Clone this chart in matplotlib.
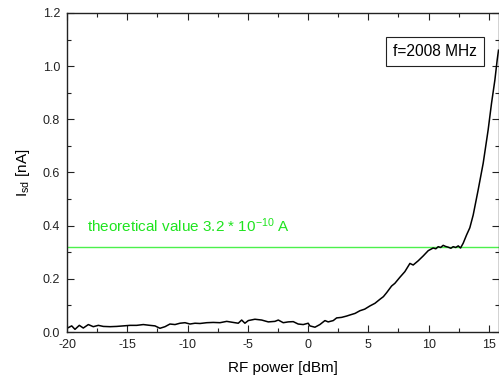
#!/usr/bin/env python3
"""Source-drain current vs RF power at f=2008 MHz, with theoretical level."""

import matplotlib
matplotlib.use("Agg")
import matplotlib.pyplot as plt
from matplotlib.ticker import MultipleLocator

plt.rcParams["font.family"] = ["Liberation Sans", "DejaVu Sans"]
plt.rcParams["mathtext.default"] = "regular"
plt.rcParams["axes.unicode_minus"] = False

rf_power = [
    -20.00, -19.61, -19.34, -18.98, -18.65, -18.23, -17.82, -17.40, -16.99, -16.43,
    -15.88, -15.33, -14.77, -14.22, -13.67, -13.12, -12.70, -12.29, -11.87, -11.46,
    -11.04, -10.63, -10.21, -9.80, -9.38, -8.97, -8.41, -7.87, -7.31, -6.75,
    -6.21, -5.79, -5.51, -5.24, -4.96, -4.41, -3.85, -3.30, -2.75, -2.47,
    -2.06, -1.65, -1.23, -0.82, -0.40, 0.01, 0.15, 0.57, 0.98, 1.40,
    1.67, 2.09, 2.37, 2.78, 3.20, 3.47, 3.90, 4.30, 4.70, 5.13,
    5.55, 5.96, 6.25, 6.52, 6.93, 7.20, 7.62, 8.03, 8.45, 8.72,
    9.14, 9.55, 9.97, 10.38, 10.60, 10.80, 11.00, 11.21, 11.40, 11.63,
    11.85, 12.04, 12.25, 12.46, 12.65, 12.87, 13.15, 13.42, 13.70, 14.11,
    14.53, 14.94, 15.22, 15.50, 15.69, 15.80,
]
i_sd = [
    0.014, 0.023, 0.010, 0.025, 0.015, 0.028, 0.020, 0.025, 0.021, 0.020,
    0.021, 0.023, 0.025, 0.025, 0.028, 0.025, 0.023, 0.014, 0.020, 0.030,
    0.028, 0.033, 0.035, 0.030, 0.033, 0.032, 0.035, 0.036, 0.035, 0.040,
    0.036, 0.033, 0.045, 0.033, 0.043, 0.048, 0.045, 0.038, 0.040, 0.045,
    0.035, 0.038, 0.039, 0.030, 0.028, 0.033, 0.023, 0.018, 0.028, 0.043,
    0.038, 0.043, 0.053, 0.055, 0.060, 0.064, 0.070, 0.080, 0.086, 0.098,
    0.108, 0.123, 0.133, 0.148, 0.173, 0.183, 0.206, 0.227, 0.258, 0.252,
    0.268, 0.286, 0.306, 0.316, 0.313, 0.321, 0.318, 0.326, 0.322, 0.319,
    0.315, 0.321, 0.318, 0.324, 0.316, 0.334, 0.365, 0.392, 0.440, 0.534,
    0.635, 0.760, 0.860, 0.948, 1.023, 1.060,
]
theory_level = 0.32  # nA
theory_label = "theoretical value 3.2 * 10$^{-10}$ A"
freq_label = "f=2008 MHz"

fig = plt.figure(figsize=(4.99, 3.81), dpi=100)
ax = fig.add_axes([0.1343, 0.1286, 0.8647, 0.8373])

ax.axhline(theory_level, color="#4cf04c", linewidth=1.0, zorder=1)
ax.plot(rf_power, i_sd, color="black", linewidth=1.1, zorder=2)

ax.text(-18.34, 0.376, theory_label, color="#1fe41f", fontsize=11,
        va="baseline", ha="left")
ax.text(0.852, 0.879, freq_label, transform=ax.transAxes, fontsize=11.2,
        ha="center", va="center",
        bbox=dict(boxstyle="square,pad=0.45", facecolor="white",
                  edgecolor="#222222", linewidth=0.8))

ax.set_xlim(-20, 15.8)
ax.set_ylim(0, 1.2)
ax.xaxis.set_major_locator(MultipleLocator(5))
ax.xaxis.set_minor_locator(MultipleLocator(2.5))
ax.yaxis.set_major_locator(MultipleLocator(0.2))
ax.yaxis.set_minor_locator(MultipleLocator(0.1))
ax.yaxis.set_major_formatter(plt.FuncFormatter(lambda v, _: f"{v:.1f}"))
ax.tick_params(which="both", direction="in", top=True, right=True,
               labelsize=9, colors="#222222", pad=5)
ax.tick_params(which="major", length=5, width=0.8)
ax.tick_params(which="minor", length=3, width=0.8)
for sp in ax.spines.values():
    sp.set_linewidth(1.0)
    sp.set_color("#222222")

ax.set_xlabel("RF power [dBm]", fontsize=11, labelpad=7)
ax.set_ylabel("I$_{sd}$ [nA]", fontsize=11, labelpad=8)

fig.savefig("out.png", dpi=100)
